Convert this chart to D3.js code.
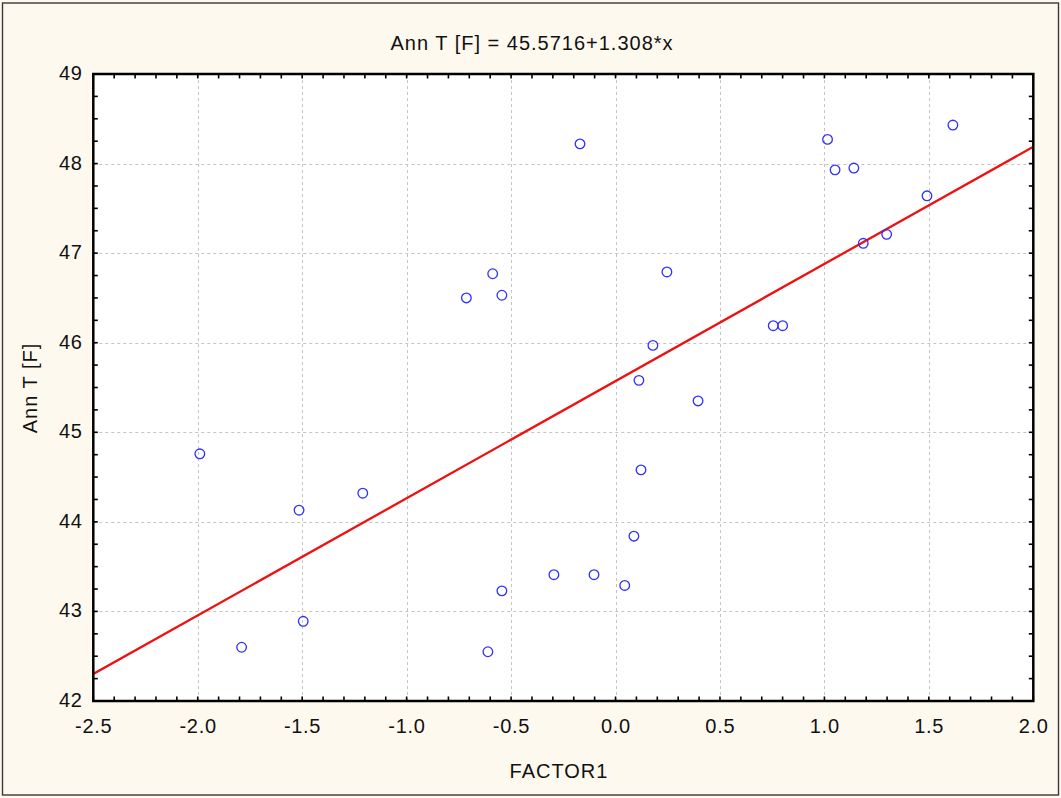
<!DOCTYPE html>
<html>
<head>
<meta charset="utf-8">
<script src="https://cdn.jsdelivr.net/npm/d3@7/dist/d3.min.js"></script>
<style>
  html, body { margin: 0; padding: 0; background: #fef9ef; }
  svg { display: block; }
  text { font-family: "Liberation Sans", Arial, sans-serif; fill: #111; }
</style>
</head>
<body>
<svg id="chart" width="1061" height="798"></svg>
<script>
// Observations: FACTOR1 score vs. annual temperature
const factor1 = [-1.99, -1.79, -1.515, -1.495, -1.21, -0.714, -0.588, -0.544, -0.544, -0.611,
                 -0.295, -0.17, -0.103, 0.044, 0.088, 0.122, 0.112, 0.179, 0.246, 0.395,
                 0.755, 0.80, 1.015, 1.051, 1.141, 1.186, 1.298, 1.491, 1.615];
const annT    = [44.76, 42.60, 44.13, 42.89, 44.32, 46.50, 46.77, 46.53, 43.23, 42.55,
                 43.41, 48.22, 43.41, 43.29, 43.84, 44.58, 45.58, 45.97, 46.79, 45.35,
                 46.19, 46.19, 48.27, 47.93, 47.95, 47.11, 47.21, 47.64, 48.43];

// Fitted line: Ann T [F] = 45.5716 + 1.308*x
const intercept = 45.5716;
const slope = 1.308;

const xTickValues = [-2.5, -2.0, -1.5, -1.0, -0.5, 0.0, 0.5, 1.0, 1.5, 2.0];
const yTickValues = [42, 43, 44, 45, 46, 47, 48, 49];

const titleText = "Ann T [F] = 45.5716+1.308*x";
const xTitle = "FACTOR1";
const yTitle = "Ann T [F]";

const svg = d3.select("#chart");
const W = 1061, H = 798;
const plot = { left: 93.3, right: 1033.3, top: 74, bottom: 701 };

const x = d3.scaleLinear().domain([-2.5, 2.0]).range([plot.left, plot.right]);
const y = d3.scaleLinear().domain([42, 49]).range([plot.bottom, plot.top]);

// page background and outer frame
svg.append("rect").attr("x", 0).attr("y", 0).attr("width", W).attr("height", H)
  .attr("fill", "#fef9ef");
svg.append("rect").attr("x", 2.5).attr("y", 3).attr("width", 1056).attr("height", 792)
  .attr("fill", "none").attr("stroke", "#3a3a3a").attr("stroke-width", 1.4);

// plot area
svg.append("rect").attr("x", plot.left).attr("y", plot.top)
  .attr("width", plot.right - plot.left).attr("height", plot.bottom - plot.top)
  .attr("fill", "#ffffff");

// dashed grid
const grid = svg.append("g").attr("stroke", "#c4c4c4").attr("stroke-width", 1)
  .attr("stroke-dasharray", "3,3");
grid.selectAll("line.gx").data(xTickValues.slice(1, -1)).enter().append("line")
  .attr("x1", d => Math.round(x(d)) + 0.5).attr("x2", d => Math.round(x(d)) + 0.5)
  .attr("y1", plot.top).attr("y2", plot.bottom);
grid.selectAll("line.gy").data(yTickValues.slice(1, -1)).enter().append("line")
  .attr("y1", d => Math.round(y(d)) + 0.5).attr("y2", d => Math.round(y(d)) + 0.5)
  .attr("x1", plot.left).attr("x2", plot.right);

// regression line
svg.append("clipPath").attr("id", "plotClip").append("rect")
  .attr("x", plot.left).attr("y", plot.top)
  .attr("width", plot.right - plot.left).attr("height", plot.bottom - plot.top);
const fitX = x.domain();
svg.append("line")
  .attr("clip-path", "url(#plotClip)")
  .attr("x1", x(fitX[0])).attr("y1", y(intercept + slope * fitX[0]))
  .attr("x2", x(fitX[1])).attr("y2", y(intercept + slope * fitX[1]))
  .attr("stroke", "#ee1111").attr("stroke-width", 2.3);

// points
svg.append("g").selectAll("circle").data(factor1.map((v, i) => [v, annT[i]]))
  .enter().append("circle")
  .attr("cx", d => x(d[0])).attr("cy", d => y(d[1])).attr("r", 4.8)
  .attr("fill", "none").attr("stroke", "#2f2fff").attr("stroke-width", 1.3);

// inward ticks on all four sides
const xMinor = d3.range(-25, 21).map(v => v / 10);
const yMinor = d3.range(42 * 4, 49 * 4 + 1).map(v => v / 4);
const ticks = svg.append("g").attr("stroke", "#000").attr("stroke-width", 1.6);
const tl = 4.5;
ticks.selectAll("line.tb").data(xMinor).enter().append("line")
  .attr("x1", d => x(d)).attr("x2", d => x(d)).attr("y1", plot.bottom).attr("y2", plot.bottom - tl);
ticks.selectAll("line.tt").data(xMinor).enter().append("line")
  .attr("x1", d => x(d)).attr("x2", d => x(d)).attr("y1", plot.top).attr("y2", plot.top + tl);
ticks.selectAll("line.tl").data(yMinor).enter().append("line")
  .attr("y1", d => y(d)).attr("y2", d => y(d)).attr("x1", plot.left).attr("x2", plot.left + tl);
ticks.selectAll("line.tr").data(yMinor).enter().append("line")
  .attr("y1", d => y(d)).attr("y2", d => y(d)).attr("x1", plot.right).attr("x2", plot.right - tl);

// axis frame
svg.append("rect").attr("x", plot.left).attr("y", plot.top)
  .attr("width", plot.right - plot.left).attr("height", plot.bottom - plot.top)
  .attr("fill", "none").attr("stroke", "#000").attr("stroke-width", 2.5);

// tick labels
const fs = 20;
const ls = 0.7;
svg.append("g").selectAll("text").data(xTickValues).enter().append("text")
  .attr("x", d => x(d) + ls / 2).attr("y", 733)
  .attr("text-anchor", "middle").attr("font-size", fs).attr("letter-spacing", ls)
  .text(d => d3.format(".1f")(d).replace("−", "-"));
svg.append("g").selectAll("text").data(yTickValues).enter().append("text")
  .attr("x", 82 + ls).attr("y", d => y(d) + 6)
  .attr("text-anchor", "end").attr("font-size", fs).attr("letter-spacing", ls)
  .text(d => d);

// titles
svg.append("text").attr("x", 532).attr("y", 50).attr("text-anchor", "middle")
  .attr("font-size", fs).attr("letter-spacing", 1).text(titleText);
svg.append("text").attr("x", 559).attr("y", 778).attr("text-anchor", "middle")
  .attr("font-size", fs).attr("letter-spacing", 1).text(xTitle);
svg.append("text").attr("transform", "translate(37,388) rotate(-90)")
  .attr("text-anchor", "middle").attr("font-size", fs).attr("letter-spacing", 1).text(yTitle);
</script>
</body>
</html>
